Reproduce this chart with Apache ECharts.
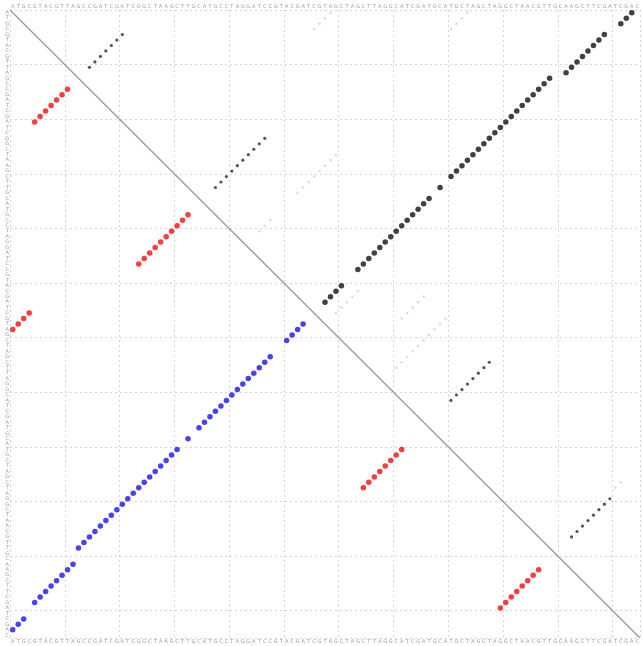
<!DOCTYPE html>
<html>
<head>
<meta charset="utf-8">
<script src="https://cdn.jsdelivr.net/npm/echarts@6/dist/echarts.min.js"></script>
<style>
html,body{margin:0;padding:0;background:#fff;}
#chart{width:643px;height:646px;}
</style>
</head>
<body>
<div id="chart"></div>
<script>
// Sequence shown along the axes (115 positions)
const sequence = 'ATGCGTACGTTAGCCGATCGATCGGCTAAGCTTGCATGCCTAGGATCCGTACGATCGTAGCTAGCTTAGGCATCGATGCATGCTAGCTAGGCTAACGTTGCAAGCTTCGATCGAC';
const seqLength = 115;

// Blue matches (lower triangle): column index, row index
const blueX = [0,1,2,4,5,6,7,8,9,10,11,12,13,14,15,16,17,18,19,20,21,22,23,24,25,26,27,28,29,30,32,34,35,36,37,38,39,40,41,42,43,44,45,46,47,50,51,52,53];
const blueY = [113,112,111,108,107,106,105,104,103,102,101,98,97,96,95,94,93,92,91,90,89,88,87,86,85,84,83,82,81,80,78,76,75,74,73,72,71,70,69,68,67,66,65,64,63,60,59,58,57];

// Red matches (lower triangle)
const redX = [4,5,6,7,8,9,10,23,24,25,26,27,28,29,30,31,32,0,1,2,3,64,65,66,67,68,69,70,71,89,90,91,92,93,94,95,96];
const redY = [20,19,18,17,16,15,14,46,45,44,43,42,41,40,39,38,37,58,57,56,55,87,86,85,84,83,82,81,80,109,108,107,106,105,104,103,102];

// Large black matches (upper triangle)
const blackX = [113,112,111,108,107,106,105,104,103,102,101,98,97,96,95,94,93,92,91,90,89,88,87,86,85,84,83,82,81,80,78,76,75,74,73,72,71,70,69,68,67,66,65,64,63,60,59,58,57];
const blackY = [0,1,2,4,5,6,7,8,9,10,11,12,13,14,15,16,17,18,19,20,21,22,23,24,25,26,27,28,29,30,32,34,35,36,37,38,39,40,41,42,43,44,45,46,47,50,51,52,53];

// Small dark matches (upper triangle)
const smallX = [14,15,16,17,18,19,20,37,38,39,40,41,42,43,44,45,46,80,81,82,83,84,85,86,87,102,103,104,105,106,107,108,109];
const smallY = [10,9,8,7,6,5,4,32,31,30,29,28,27,26,25,24,23,71,70,69,68,67,66,65,64,96,95,94,93,92,91,90,89];

// Faint matches (upper triangle)
const faintX = [55,56,57,58,80,81,82,83,45,46,47,52,53,54,55,56,57,58,59,70,71,72,73,74,75,76,77,78,79,110,111,59,60,61,62,63,71,72,73,74,75];
const faintY = [3,2,1,0,3,2,1,0,40,39,38,33,32,31,30,29,28,27,26,65,64,63,62,61,60,59,58,57,56,87,86,55,54,53,52,51,56,55,54,53,52];

// Identity diagonal
const diagX = [0,115];
const diagY = [0,115];

function pts(xs, ys){ return xs.map((x,k)=>[x+0.5, ys[k]+0.5]); }

const letters = sequence.split('');
const chart = echarts.init(document.getElementById('chart'), null, {renderer:'canvas'});
const splitStyle = {show:true, lineStyle:{color:'#d6d6d6', type:[2,3], width:1}};
const catLabel = {show:true, interval:0, fontSize:5, color:'#9a9a9a', margin:1, fontFamily:'DejaVu Sans'};

chart.setOption({
  animation:false,
  backgroundColor:'#fff',
  grid:{left:10, top:10, width:630, height:628, containLabel:false},
  xAxis:[
    {type:'value', min:0, max:seqLength, interval:10, axisLabel:{show:false}, axisTick:{show:false}, axisLine:{show:false}, splitLine:splitStyle},
    {type:'category', data:letters, position:'top', boundaryGap:true, axisLabel:catLabel, axisTick:{show:false}, axisLine:{show:false}, splitLine:{show:false}},
    {type:'category', data:letters, position:'bottom', boundaryGap:true, axisLabel:catLabel, axisTick:{show:false}, axisLine:{show:false}, splitLine:{show:false}}
  ],
  yAxis:[
    {type:'value', min:0, max:seqLength, interval:10, inverse:true, axisLabel:{show:false}, axisTick:{show:false}, axisLine:{show:false}, splitLine:splitStyle},
    {type:'category', data:letters, position:'left', inverse:true, boundaryGap:true, axisLabel:catLabel, axisTick:{show:false}, axisLine:{show:false}, splitLine:{show:false}}
  ],
  series:[
    {type:'line', data:diagX.map((x,k)=>[x, diagY[k]]), symbol:'none', lineStyle:{color:'#999', width:1.3}, silent:true},
    {type:'scatter', data:pts(faintX, faintY), symbol:'circle', symbolSize:2.5, itemStyle:{color:'#d2d2d2'}},
    {type:'scatter', data:pts(smallX, smallY), symbol:'circle', symbolSize:3.2, itemStyle:{color:'#2a2a2a'}},
    {type:'scatter', data:pts(blackX, blackY), symbol:'circle', symbolSize:5.5, itemStyle:{color:'#111'}},
    {type:'scatter', data:pts(redX, redY), symbol:'circle', symbolSize:5.5, itemStyle:{color:'#ff0a0a'}},
    {type:'scatter', data:pts(blueX, blueY), symbol:'circle', symbolSize:5.5, itemStyle:{color:'#1414ff'}}
  ]
});
</script>
</body>
</html>
